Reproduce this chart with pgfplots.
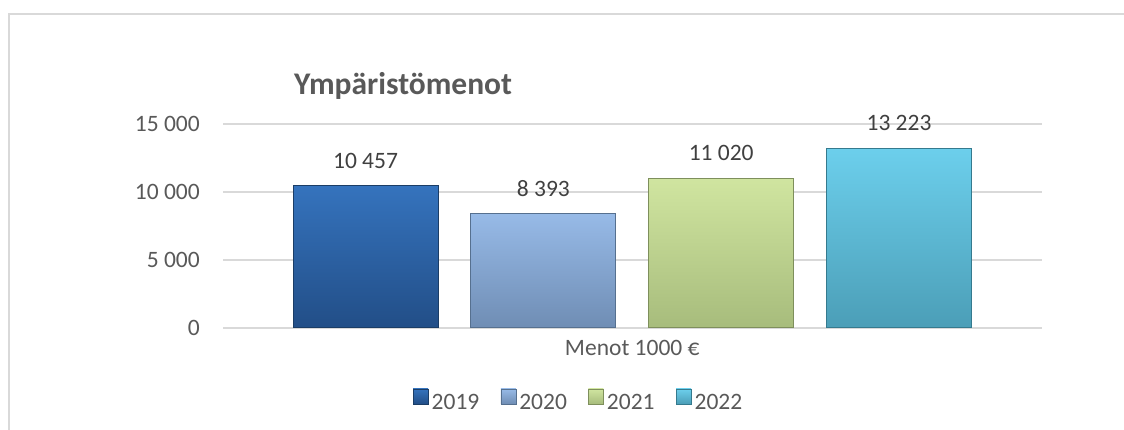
\documentclass[border=0pt]{standalone}
\usepackage{pgfplots}
\pgfplotsset{compat=1.18}
\usepackage{fontspec}
\setmainfont{Carlito}
\definecolor{txt}{HTML}{595959}
\definecolor{vtxt}{HTML}{404040}
\definecolor{gridc}{HTML}{D9D9D9}
\definecolor{framec}{HTML}{D9D9D9}
\definecolor{aT}{HTML}{3573BD}
\definecolor{aB}{HTML}{224E87}
\definecolor{aD}{HTML}{1B3D66}
\definecolor{bT}{HTML}{97BAE7}
\definecolor{bB}{HTML}{6F8DB4}
\definecolor{bD}{HTML}{56708F}
\definecolor{cT}{HTML}{D0E5A0}
\definecolor{cB}{HTML}{A7BC7C}
\definecolor{cD}{HTML}{7E8F5C}
\definecolor{dT}{HTML}{6CCFEC}
\definecolor{dB}{HTML}{4B9EB7}
\definecolor{dD}{HTML}{357A8E}
\begin{document}
\begin{tikzpicture}[x=1pt,y=1pt,font=\fontsize{23.5}{28}\selectfont]
\draw[color=framec, line width=1.5pt] (9,0) -- (9,416) -- (1124,416);
\node[anchor=base west, font=\bfseries\fontsize{31.5}{36}\selectfont, text=txt, inner sep=0pt] at (294,335) {Ympäristömenot};
\begin{axis}[
  at={(223pt,102pt)}, anchor=south west,
  scale only axis, width=819pt, height=204pt,
  xmin=-0.8015, xmax=3.804, ymin=0, ymax=15000,
  font=\fontsize{23.5}{28}\selectfont,
  axis line style={draw=none},
  tick style={draw=none},
  major tick length=0pt,
  ymajorgrids, grid style={color=gridc, line width=1.5pt},
  ytick={0,5000,10000,15000},
  xtick={1.5}, xticklabels={Menot 1000 €},
  xticklabel style={anchor=center, yshift=-20pt, text=txt, inner sep=0pt},
  yticklabel style={anchor=east, xshift=-23pt, text=txt, inner sep=0pt},
  scaled y ticks=false,
  /pgf/number format/1000 sep={\ },
  /pgf/number format/assume math mode=true,
  ybar, bar width=0.8155, bar shift=0pt,
  nodes near coords,
  every node near coord/.append style={anchor=center, yshift=25pt, text=vtxt, inner sep=0pt},
  legend columns=4,
  legend style={at={(0.4328,-0.353)}, anchor=center, draw=none, fill=none,
    text=txt, nodes={inner sep=0pt},
    /tikz/every even column/.append style={column sep=21pt}},
  legend image code/.code={\path[draw=none,fill=none] (0pt,0pt) -- (19pt,0pt);\draw[#1, line width=0.6pt] (0.5pt,-1pt) rectangle (15.5pt,14pt);},
]
\addplot[top color=aT, bottom color=aB, draw=aD, line width=1pt] coordinates {(0,10457)};
\addplot[top color=bT, bottom color=bB, draw=bD, line width=1pt] coordinates {(1,8393)};
\addplot[top color=cT, bottom color=cB, draw=cD, line width=1pt] coordinates {(2,11020)};
\addplot[top color=dT, bottom color=dB, draw=dD, line width=1pt] coordinates {(3,13223)};
\legend{2019,2020,2021,2022}
\end{axis}
\pgfresetboundingbox
\useasboundingbox (0,0) rectangle (1124,430);
\end{tikzpicture}
\end{document}
